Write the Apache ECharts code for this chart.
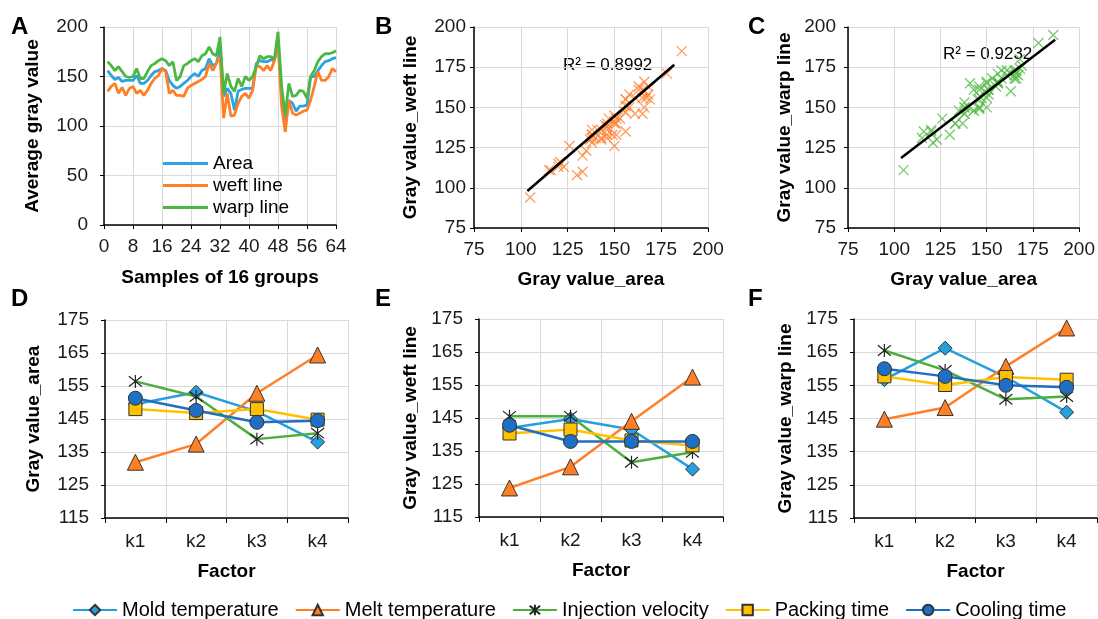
<!DOCTYPE html>
<html>
<head>
<meta charset="utf-8">
<script src="https://cdn.jsdelivr.net/npm/echarts@6/dist/echarts.min.js"></script>
<style>
  html, body { margin: 0; background: #fff; }
  #main { width: 1098px; height: 619px; }
</style>
</head>
<body>
<div id="main"></div>
<script>
// panel A: 64 samples, average gray value
const area = [156,151,147,149,145,146,146,146,151,143, 143,146,151,155,156,158,156,146,141,138,
              140,143,146,150,153,150,156,158,168,161, 163,178,130,138,133,116,135,137,138,138,
              138,163,166,165,165,167,166,186,133,105, 126,123,115,120,120,121,150,150,156,161,
              165,166,168,169];
const weft = [135,140,143,133,139,131,138,140,133,136, 131,136,143,148,151,158,155,133,136,131,
              131,130,138,141,143,145,147,150,163,156, 163,171,108,133,110,111,123,130,133,128,
              136,161,160,156,161,156,166,185,120,94, 126,113,111,113,115,116,126,140,155,146,
              146,150,158,155];
const warp = [165,161,156,160,155,150,149,150,158,148, 148,155,161,163,166,168,166,161,165,146,
              150,161,163,166,168,165,171,173,180,173, 171,190,133,153,140,135,148,140,150,146,
              150,160,171,168,170,170,168,195,140,111, 143,130,131,136,135,128,150,156,165,170,
              173,173,174,176];

// trend lines of B and C (ends)
const trendWeft = [[103.5, 98], [182, 176.5]];
const trendWarp = [[103.7, 118.5], [187, 192]];

// panels D, E, F
const levels = ['k1', 'k2', 'k3', 'k4'];
const factors = ['Mold temperature', 'Melt temperature', 'Injection velocity', 'Packing time', 'Cooling time'];
const areaK = [
  [149.5, 153.1, 147.3, 138.0],
  [131.9, 137.4, 152.8, 164.4],
  [156.4, 151.8, 138.9, 140.7],
  [148.0, 146.8, 148.0, 144.8],
  [151.3, 147.6, 144.0, 144.5]
];
const weftK = [
  [142.0, 144.7, 141.5, 129.5],
  [123.8, 130.2, 144.0, 157.4],
  [145.5, 145.5, 131.6, 134.6],
  [140.3, 141.5, 138.2, 136.7],
  [142.8, 137.9, 137.9, 137.9]
];
const warpK = [
  [156.7, 166.2, 157.5, 146.9],
  [144.8, 148.3, 160.7, 172.3],
  [165.5, 159.5, 150.8, 151.6],
  [157.7, 155.1, 157.5, 156.7],
  [160.0, 157.7, 155.0, 154.4]
];

const FONT = '"Liberation Sans", Arial, sans-serif';
const FS = 19;
const cross = 'path://M0 0L10 10M10 0L0 10';
const star = 'path://M1 1L9 9M9 1L1 9M5 0L5 10';

const factorStyle = [
  { color: '#26a0dc', symbol: 'diamond', size: 14 },
  { color: '#ff7f27', symbol: 'triangle', size: 16 },
  { color: '#4cae3f', symbol: star, size: 13 },
  { color: '#ffc000', symbol: 'rect', size: 13 },
  { color: '#1f6fc5', symbol: 'circle', size: 14 }
];

const chart = echarts.init(document.getElementById('main'));

function valueAxis(grid, min, max, step, name, gap, margin) {
  return {
    gridIndex: grid, type: 'value', min: min, max: max, interval: step,
    name: name, nameLocation: 'middle', nameGap: gap,
    nameTextStyle: { fontFamily: FONT, fontSize: FS, fontWeight: 'bold', color: '#000' },
    axisLine: { show: true, onZero: false, lineStyle: { color: '#000', width: 1.5 } },
    axisTick: { show: true, length: 4, lineStyle: { color: '#000' } },
    axisLabel: { fontFamily: FONT, fontSize: FS, color: '#1a1a1a', margin: margin },
    splitLine: { show: true, lineStyle: { color: '#d9d9d9', width: 1 } }
  };
}

function catAxis(grid) {
  return {
    gridIndex: grid, type: 'category', data: levels, boundaryGap: true,
    name: 'Factor', nameLocation: 'middle', nameGap: 44,
    nameTextStyle: { fontFamily: FONT, fontSize: FS, fontWeight: 'bold', color: '#000' },
    axisLine: { lineStyle: { color: '#000', width: 1.5 } },
    axisTick: { show: true, length: 5, lineStyle: { color: '#000' } },
    axisLabel: { fontFamily: FONT, fontSize: FS, color: '#1a1a1a', margin: 14 },
    splitLine: { show: true, lineStyle: { color: '#d9d9d9', width: 1 } }
  };
}

function factorSeries(grid, rows) {
  return rows.map((vals, i) => {
    const st = factorStyle[i];
    const isStar = i === 2;
    return {
      name: factors[i], type: 'line', xAxisIndex: grid, yAxisIndex: grid,
      data: vals, symbol: st.symbol, symbolSize: st.size,
      lineStyle: { color: st.color, width: 2.5 },
      itemStyle: isStar
        ? { color: 'transparent', borderColor: '#222', borderWidth: 1.2 }
        : { color: st.color, borderColor: '#333', borderWidth: 1 },
      emphasis: { disabled: true }
    };
  });
}

function letter(text, x, y) {
  return { type: 'text', left: x, top: y,
    style: { text: text, font: 'bold 24px ' + FONT, fill: '#000' } };
}

const option = {
  animation: false,
  backgroundColor: '#fff',
  grid: [
    { left: 104, top: 27, width: 232, height: 198 },
    { left: 474, top: 27, width: 234, height: 201 },
    { left: 848, top: 27, width: 234, height: 201 },
    { left: 105, top: 320, width: 243, height: 198 },
    { left: 479, top: 319, width: 244, height: 198 },
    { left: 854, top: 319, width: 243, height: 199 }
  ],
  xAxis: [
    valueAxis(0, 0, 64, 8, 'Samples of 16 groups', 43, 12),
    valueAxis(1, 75, 200, 25, 'Gray value_area', 42, 12),
    valueAxis(2, 75, 200, 25, 'Gray value_area', 42, 12),
    catAxis(3), catAxis(4), catAxis(5)
  ],
  yAxis: [
    valueAxis(0, 0, 200, 50, 'Average gray value', 62, 16),
    valueAxis(1, 75, 200, 25, 'Gray value_weft line', 54, 8),
    valueAxis(2, 75, 200, 25, 'Gray value_warp line', 54, 12),
    valueAxis(3, 115, 175, 10, 'Gray value_area', 62, 16),
    valueAxis(4, 115, 175, 10, 'Gray value_weft line', 59, 16),
    valueAxis(5, 115, 175, 10, 'Gray value_warp line', 59, 16)
  ],
  legend: [
    {
      data: ['Area', 'weft line', 'warp line'],
      orient: 'vertical', left: 158, top: 149, icon: 'rect',
      itemWidth: 45, itemHeight: 3, itemGap: 3,
      textStyle: { fontFamily: FONT, fontSize: FS, color: '#000' }
    },
    {
      data: factors,
      left: 67, top: 595, itemWidth: 44, itemHeight: 13, itemGap: 16,
      textStyle: { fontFamily: FONT, fontSize: 20, color: '#000' }
    }
  ],
  graphic: [
    letter('A', 11, 15), letter('B', 375, 15), letter('C', 748, 15),
    letter('D', 11, 287), letter('E', 375, 287), letter('F', 748, 287),
    { type: 'text', left: 563, top: 57,
      style: { text: 'R² = 0.8992', font: FS - 2 + 'px ' + FONT, fill: '#000' } },
    { type: 'text', left: 943, top: 46,
      style: { text: 'R² = 0.9232', font: FS - 2 + 'px ' + FONT, fill: '#000' } }
  ],
  series: [
    { name: 'Area', type: 'line', xAxisIndex: 0, yAxisIndex: 0, showSymbol: false, symbol: 'none',
      data: area.map((v, i) => [i + 1, v]), lineStyle: { color: '#2aa3df', width: 2.8 },
      itemStyle: { color: '#2aa3df' } },
    { name: 'weft line', type: 'line', xAxisIndex: 0, yAxisIndex: 0, showSymbol: false, symbol: 'none',
      data: weft.map((v, i) => [i + 1, v]), lineStyle: { color: '#ff7f27', width: 2.8 },
      itemStyle: { color: '#ff7f27' } },
    { name: 'warp line', type: 'line', xAxisIndex: 0, yAxisIndex: 0, showSymbol: false, symbol: 'none',
      data: warp.map((v, i) => [i + 1, v]), lineStyle: { color: '#4cb843', width: 2.8 },
      itemStyle: { color: '#4cb843' } },

    { name: 'weft scatter', type: 'scatter', xAxisIndex: 1, yAxisIndex: 1,
      data: area.map((v, i) => [v, weft[i]]), symbol: cross, symbolSize: 10,
      itemStyle: { color: 'transparent', borderColor: '#ff8536', borderWidth: 1.3 } },
    { name: 'weft trend', type: 'line', xAxisIndex: 1, yAxisIndex: 1, symbol: 'none',
      data: trendWeft, lineStyle: { color: '#000', width: 2.5 } },
    { name: 'warp scatter', type: 'scatter', xAxisIndex: 2, yAxisIndex: 2,
      data: area.map((v, i) => [v, warp[i]]), symbol: cross, symbolSize: 10,
      itemStyle: { color: 'transparent', borderColor: '#56bb49', borderWidth: 1.3 } },
    { name: 'warp trend', type: 'line', xAxisIndex: 2, yAxisIndex: 2, symbol: 'none',
      data: trendWarp, lineStyle: { color: '#000', width: 2.5 } }
  ]
    .concat(factorSeries(3, areaK))
    .concat(factorSeries(4, weftK))
    .concat(factorSeries(5, warpK))
};

chart.setOption(option);
</script>
</body>
</html>
